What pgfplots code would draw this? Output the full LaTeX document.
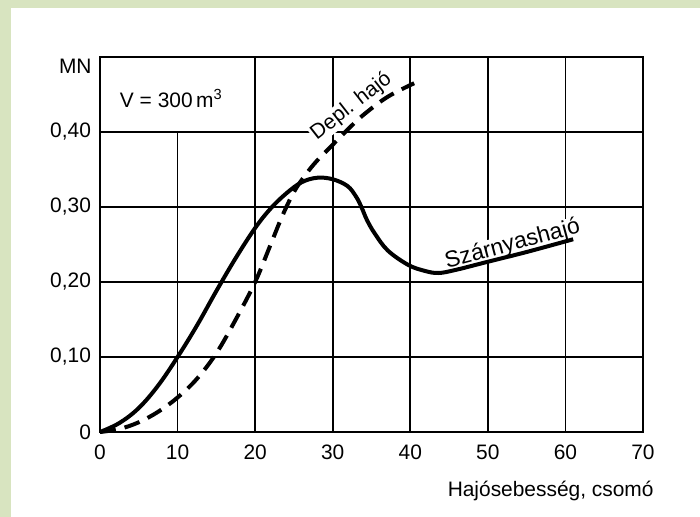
\documentclass[border=0pt]{standalone}
\usepackage{pgfplots}
\pgfplotsset{compat=1.18}
\usepackage{fontspec}
\setmainfont{Liberation Sans}
\definecolor{bggreen}{RGB}{216,228,192}
\begin{document}
\begin{tikzpicture}[x=1bp,y=1bp]
\fill[bggreen] (-50,-42.5) rectangle (300,216);
\fill[white] (-44.5,-42.5) rectangle (300,212);
\begin{axis}[at={(0,0)}, anchor=south west, scale only axis,
  width=271.5bp, height=187.5bp,
  xmin=0, xmax=70, ymin=0, ymax=0.5,
  xtick={0,10,...,70}, ytick={0,0.1,0.2,0.3,0.4},
  xticklabels={0,10,20,30,40,50,60,70},
  yticklabels={0,{0,10},{0,20},{0,30},{0,40}},
  /pgf/number format/assume math mode=true,
  major tick length=0,
  axis line style={line width=1.2bp},
  ymajorgrids, grid style={black, line width=0.9bp},
  tick label style={font=\fontsize{10.5}{12}\selectfont},
  xticklabel style={yshift=-3bp},
  yticklabel style={xshift=-1bp},
  clip=false,
]
\draw[line width=0.9bp] (axis cs:10,0) -- (axis cs:10,0.4);
\draw[line width=0.9bp] (axis cs:20,0) -- (axis cs:20,0.5);
\draw[line width=0.9bp] (axis cs:30,0) -- (axis cs:30,0.5);
\draw[line width=0.9bp] (axis cs:40,0) -- (axis cs:40,0.5);
\draw[line width=0.9bp] (axis cs:50,0) -- (axis cs:50,0.5);
\draw[line width=0.9bp] (axis cs:60,0) -- (axis cs:60,0.5);
\node[fill=white, inner sep=0.5bp, rotate=38, font=\fontsize{10.5}{12}\selectfont] at (axis cs:32.4,0.434) {Depl. hajó};
\node[font=\fontsize{10.5}{12}\selectfont] at (axis cs:9.2,0.445) {V = 300\,m\textsuperscript{3}};
\node[fill=white, inner sep=0pt, rotate=15, font=\fontsize{11.5}{13}\selectfont] at (axis cs:53.2,0.250) {Szárnyashajó};
\node[anchor=east, inner sep=0pt, font=\fontsize{10.5}{12}\selectfont] at (rel axis cs:0,0.976) [xshift=-4bp] {MN};
\node[anchor=base east, inner sep=0pt, font=\fontsize{10.5}{12}\selectfont] at (rel axis cs:1,0) [xshift=5.5bp, yshift=-32bp] {Hajósebesség, csomó};
\addplot[black, line width=2bp, smooth, tension=0.6] coordinates {
(0,0) (2.5,0.012) (5,0.032) (7.5,0.062) (10,0.100) (12.5,0.142) (15,0.188)
(17.5,0.232) (20,0.272) (22,0.298) (24,0.318) (26,0.333) (28,0.339)
(30,0.337) (31.9,0.328) (33,0.314) (33.7,0.30) (34.4,0.283) (35.4,0.265)
(37.1,0.242) (39.7,0.223) (41.8,0.215) (43.6,0.212) (45.8,0.216) (50,0.227)
(55,0.240) (61,0.257)
};
\addplot[black, line width=2bp, smooth, tension=0.6, dash pattern=on 8bp off 4.5bp] coordinates {
(0,0) (2.5,0.004) (5,0.013) (7.5,0.027) (10,0.046) (12.5,0.071) (15,0.105)
(17.5,0.150) (20,0.200) (22,0.250) (23.5,0.288) (25,0.320) (26.5,0.343)
(28,0.362) (30,0.383) (32,0.404) (34.1,0.424) (37.1,0.447) (40.5,0.465)
};
\end{axis}
\pgfresetboundingbox
\useasboundingbox (-50,-42.5) rectangle (300,216);
\end{tikzpicture}
\end{document}
